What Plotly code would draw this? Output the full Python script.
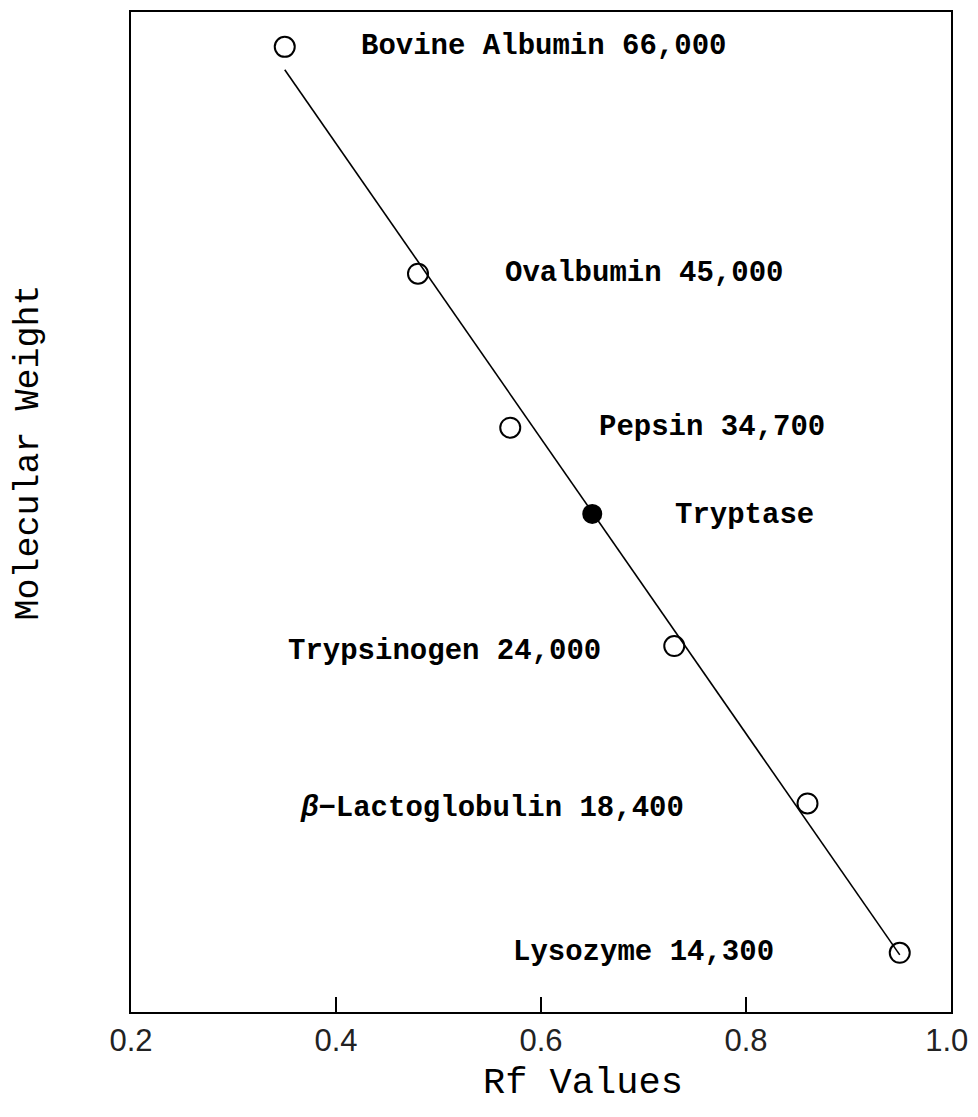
import numpy as np
import plotly.graph_objects as go

# standards
proteins = ["Bovine Albumin", "Ovalbumin", "Pepsin", "Trypsinogen",
            "<i>β</i>−Lactoglobulin", "Lysozyme"]
rf_values = [0.35, 0.48, 0.57, 0.73, 0.86, 0.95]
mol_weights = [66000, 45000, 34700, 24000, 18400, 14300]

# unknown
tryptase_rf = [0.65]
tryptase_mw = [30000]

# drawn calibration line (end points)
line_rf = [0.35, 0.95]
line_mw = [63500, 14250]

x_ticks = [0.2, 0.4, 0.6, 0.8, 1.0]
x_tick_text = ["0.2", "0.4", "0.6", "0.8", "1.0&nbsp;"]

# label placement: (xanchor, xshift px, yshift px)
label_pos = [("left", 74, 0), ("left", 85, 0), ("left", 87, 0),
             ("right", -71, -5), ("right", -122, -5), ("right", -124, 0)]

MONO = "Liberation Mono, Courier New, monospace"

fig = go.Figure()

fig.add_trace(go.Scatter(
    x=line_rf, y=line_mw, mode="lines",
    line=dict(color="black", width=1.6), showlegend=False, hoverinfo="skip",
))
fig.add_trace(go.Scatter(
    x=rf_values, y=mol_weights, mode="markers",
    marker=dict(symbol="circle-open", size=20, color="black", line=dict(width=2)),
    showlegend=False,
))
fig.add_trace(go.Scatter(
    x=tryptase_rf, y=tryptase_mw, mode="markers",
    marker=dict(symbol="circle", size=20, color="black"),
    showlegend=False,
))

for name, rf, mw, (anchor, dx, dy) in zip(proteins, rf_values, mol_weights, label_pos):
    fig.add_annotation(
        x=rf, y=np.log10(mw), text=f"{name} {mw:,}", showarrow=False,
        xanchor=anchor, yanchor="middle", xshift=dx, yshift=dy,
        font=dict(family=MONO, size=29, color="black", weight="bold"),
    )

fig.add_annotation(
    x=tryptase_rf[0], y=np.log10(tryptase_mw[0]), text="Tryptase", showarrow=False,
    xanchor="left", yanchor="middle", xshift=81, yshift=-2,
    font=dict(family=MONO, size=29, color="black", weight="bold"),
)

# axis titles
fig.add_annotation(
    x=0.551, y=-0.071, xref="paper", yref="paper", text="Rf Values",
    showarrow=False, xanchor="center", yanchor="middle",
    font=dict(family=MONO, size=37, color="black"),
)
fig.add_annotation(
    x=-0.125, y=0.559, xref="paper", yref="paper", text="Molecular Weight",
    showarrow=False, xanchor="center", yanchor="middle", textangle=-90,
    font=dict(family=MONO, size=35, color="black"),
)

fig.update_layout(
    width=970,
    height=1101,
    margin=dict(l=123, r=27, t=4, b=97, autoexpand=False),
    plot_bgcolor="white",
    paper_bgcolor="white",
    showlegend=False,
    xaxis=dict(
        range=[0.2, 1.0],
        tickvals=x_ticks,
        ticktext=x_tick_text,
        ticks="inside",
        ticklen=15,
        tickwidth=1.5,
        tickcolor="black",
        ticklabeloverflow="allow",
        tickfont=dict(family="Liberation Sans, Arial", size=31, color="#222"),
        showgrid=False,
        zeroline=False,
        showline=True,
        linecolor="black",
        linewidth=2,
        mirror=True,
    ),
    yaxis=dict(
        type="log",
        range=[np.log10(12940), np.log10(70000)],
        showticklabels=False,
        ticks="",
        showgrid=False,
        zeroline=False,
        showline=True,
        linecolor="black",
        linewidth=2,
        mirror=True,
    ),
)

fig.write_html("out.html")
